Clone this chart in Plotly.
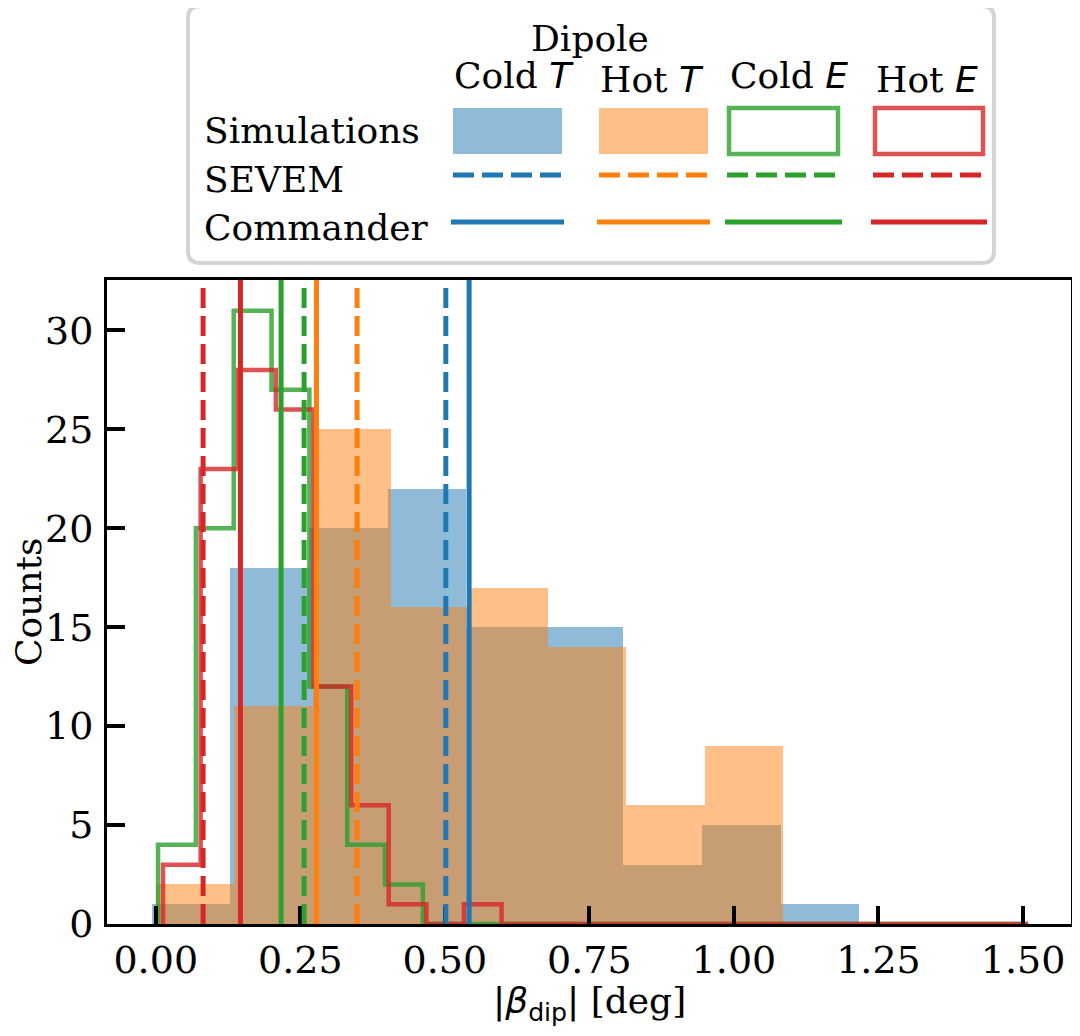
import numpy as np
import plotly.graph_objects as go

# ---------------- data ----------------
series_names = ["Cold T", "Hot T", "Cold E", "Hot E"]

# Simulation histograms (bin range lo..hi, equal-width bins, counts per bin)
cold_T_lo, cold_T_hi = -0.0069, 1.2168
cold_T_counts = [1, 18, 20, 22, 15, 15, 3, 5, 1]

hot_T_lo, hot_T_hi = 0.0, 1.085
hot_T_counts = [2, 11, 25, 16, 17, 14, 6, 9]

cold_E_lo, cold_E_hi = 0.004, 1.509
cold_E_counts = [4, 20, 31, 27, 12, 4, 2] + [0] * 16

hot_E_lo, hot_E_hi = 0.0126, 1.509
hot_E_counts = [3, 23, 28, 26, 12, 6, 1, 0, 1] + [0] * 14

# Observed values (deg), order: Cold T, Hot T, Cold E, Hot E
sevem_vals = [0.5017, 0.3483, 0.2566, 0.0819]
commander_vals = [0.542, 0.278, 0.2168, 0.1465]

x_ticks = [0.0, 0.25, 0.5, 0.75, 1.0, 1.25, 1.5]
y_ticks = [0, 5, 10, 15, 20, 25, 30]

# ---------------- styles ----------------
C_BLUE = "#1f77b4"
C_ORANGE = "#ff7f0e"
C_GREEN = "#2ca02c"
C_RED = "#d62728"
FILL_BLUE = "rgba(31,119,180,0.5)"
FILL_ORANGE = "rgba(255,127,14,0.5)"
STEP_GREEN = "rgba(44,160,44,0.8)"
STEP_RED = "rgba(214,39,40,0.8)"
SERIF = "DejaVu Serif"
SANS = "DejaVu Sans"
FS = 36
TICK_FS = 38
LW = 5
DASH = "20px,8px"

# the page body adds an 8px offset; size the figure so it fits the window
OFF = 8
W, H = 1080 - OFF, 1036 - OFF
# plot area in reference-picture pixels
AX_L, AX_R, AX_T, AX_B = 107, 1071, 280, 924


def px_x(px):
    return (px - AX_L) / (AX_R - AX_L)


def px_y(py):
    return (AX_B - py) / (AX_B - AX_T)


fig = go.Figure()

# filled histograms
for counts, lo, hi, fill in [
    (cold_T_counts, cold_T_lo, cold_T_hi, FILL_BLUE),
    (hot_T_counts, hot_T_lo, hot_T_hi, FILL_ORANGE),
]:
    e = np.linspace(lo, hi, len(counts) + 1)
    fig.add_trace(go.Bar(
        x=(e[:-1] + e[1:]) / 2, y=counts, width=np.diff(e),
        marker=dict(color=fill, line=dict(width=0)),
        showlegend=False, hoverinfo="skip",
    ))

# step histograms
for counts, lo, hi, col in [
    (cold_E_counts, cold_E_lo, cold_E_hi, STEP_GREEN),
    (hot_E_counts, hot_E_lo, hot_E_hi, STEP_RED),
]:
    e = np.linspace(lo, hi, len(counts) + 1)
    xs, ys = [e[0]], [0]
    for i, c in enumerate(counts):
        xs += [e[i], e[i + 1]]
        ys += [c, c]
    xs.append(e[-1])
    ys.append(0)
    fig.add_trace(go.Scatter(
        x=xs, y=ys, mode="lines",
        line=dict(color=col, width=LW - 0.5),
        showlegend=False, hoverinfo="skip",
    ))

line_cols = [C_BLUE, C_ORANGE, C_GREEN, C_RED]
for v, col in zip(commander_vals, line_cols):
    fig.add_shape(type="line", xref="x", yref="y domain", x0=v, x1=v, y0=0, y1=1,
                  line=dict(color=col, width=LW))
for v, col in zip(sevem_vals, line_cols):
    fig.add_shape(type="line", xref="x", yref="y domain", x0=v, x1=v, y0=0, y1=1,
                  line=dict(color=col, width=LW, dash=DASH))

# ---------------- custom legend table ----------------
bx0, bx1, by0, by1, r = 188, 994, 6, 263, 12
rx, ry = r / (AX_R - AX_L), r / (AX_B - AX_T)
X0, X1, Y0, Y1 = px_x(bx0), px_x(bx1), px_y(by1), px_y(by0)
path = (f"M {X0+rx},{Y1} L {X1-rx},{Y1} Q {X1},{Y1} {X1},{Y1-ry} "
        f"L {X1},{Y0+ry} Q {X1},{Y0} {X1-rx},{Y0} L {X0+rx},{Y0} "
        f"Q {X0},{Y0} {X0},{Y0+ry} L {X0},{Y1-ry} Q {X0},{Y1} {X0+rx},{Y1} Z")
fig.add_shape(type="path", xref="paper", yref="paper", path=path,
              line=dict(color="#d4d4d4", width=4), fillcolor="white", layer="above")

col_x = [(453, 562), (599, 708), (727, 840), (873, 985)]
sim_y = (108, 154)
for (a, b), name in zip(col_x, series_names):
    if name.endswith("T"):
        fill = FILL_BLUE if name.startswith("Cold") else FILL_ORANGE
        fig.add_shape(type="rect", xref="paper", yref="paper",
                      x0=px_x(a), x1=px_x(b), y0=px_y(sim_y[1]), y1=px_y(sim_y[0]),
                      fillcolor=fill, line=dict(width=0), layer="above")
    else:
        col = STEP_GREEN if name.startswith("Cold") else STEP_RED
        fig.add_shape(type="rect", xref="paper", yref="paper",
                      x0=px_x(a + 2), x1=px_x(b - 2), y0=px_y(sim_y[1]), y1=px_y(sim_y[0]),
                      fillcolor="rgba(0,0,0,0)", line=dict(color=col, width=4.5), layer="above")

for (a, b), col in zip(col_x, line_cols):
    fig.add_shape(type="line", xref="paper", yref="paper",
                  x0=px_x(a), x1=px_x(b), y0=px_y(175), y1=px_y(175),
                  line=dict(color=col, width=5, dash="21px,8px"), layer="above")
    fig.add_shape(type="line", xref="paper", yref="paper",
                  x0=px_x(a - 2), x1=px_x(b + 2), y0=px_y(222), y1=px_y(222),
                  line=dict(color=col, width=5), layer="above")


def ann(text, x, y, xanchor="center", size=FS, angle=0):
    fig.add_annotation(text=text, x=px_x(x), y=px_y(y), xref="paper", yref="paper",
                       xanchor=xanchor, yanchor="middle", showarrow=False, textangle=angle,
                       font=dict(family=SERIF, size=size, color="black"))


def math(s):
    return f"<span style=\"font-family:'{SANS}'\"><i>{s}</i></span>"


ann("Dipole", 590, 38)
header_pos = [(514, 75), (652, 79), (789, 75), (927, 79)]
for name, (hx, hy) in zip(series_names, header_pos):
    word, sym = name.split(" ")
    ann(f"{word} {math(sym)}", hx, hy)
ann("Simulations", 202, 131, xanchor="left")
ann("SEVEM", 202, 179, xanchor="left")
ann("Commander", 202, 227, xanchor="left")

# axis titles
ann(f"<span style=\"font-family:'{SANS}'\">|<i>β</i><sub>dip</sub>|</span> [deg]", 589, 1003)
ann("Counts", 28, 602, angle=-90)

# ---------------- axes ----------------
axis_common = dict(
    showgrid=False, zeroline=False, showline=True, linewidth=3, linecolor="black",
    mirror=True, ticks="inside", ticklen=18, tickwidth=4, tickcolor="black",
    tickfont=dict(family=SERIF, size=TICK_FS, color="black"), automargin=False,
)
fig.update_xaxes(
    range=[-0.0843, 1.583], tickmode="array", tickvals=x_ticks,
    ticktext=[f"{t:.2f}" for t in x_ticks], ticklabelstandoff=0,
    **axis_common,
)
fig.update_yaxes(
    range=[0, 32.55], tickmode="array", tickvals=y_ticks,
    ticktext=[str(t) for t in y_ticks], ticklabelstandoff=3,
    **axis_common,
)

fig.update_layout(
    width=W, height=H, autosize=False,
    margin=dict(l=AX_L - OFF, r=(1080 - AX_R), t=AX_T - OFF, b=(1036 - AX_B),
                pad=0, autoexpand=False),
    plot_bgcolor="white", paper_bgcolor="white",
    barmode="overlay", bargap=0, showlegend=False,
    font=dict(family=SERIF, size=FS, color="black"),
)

fig.write_html("out.html")
